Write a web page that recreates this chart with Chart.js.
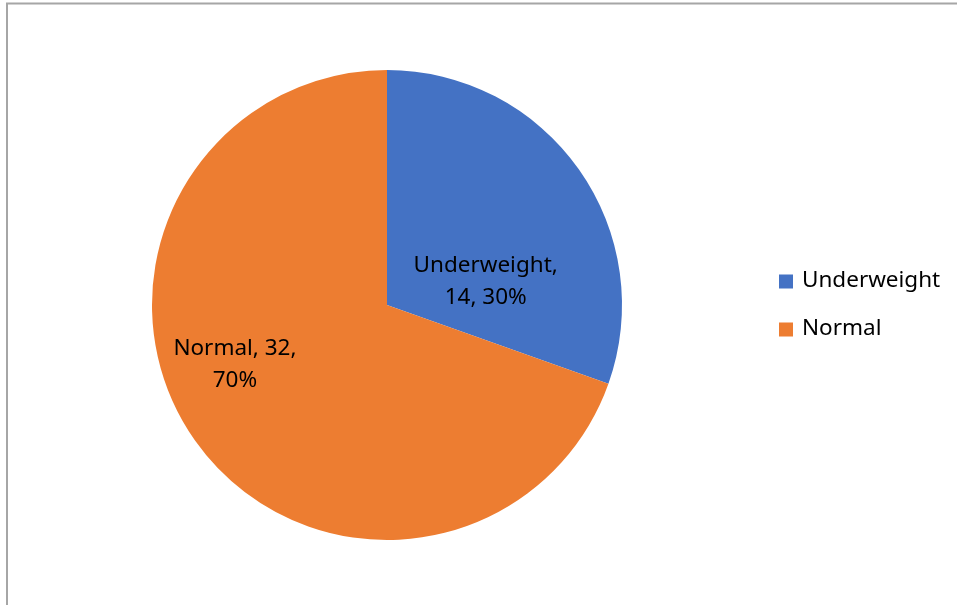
<!DOCTYPE html>
<html>
<head>
<meta charset="utf-8">
<script src="https://cdn.jsdelivr.net/npm/chart.js@4"></script>
<style>
  html, body { margin: 0; padding: 0; background: #fff; }
  #wrap { position: relative; width: 957px; height: 605px; }
</style>
</head>
<body>
<div id="wrap"><canvas id="c" width="957" height="605"></canvas></div>
<script>
const categories = ['Underweight', 'Normal'];
const counts = [14, 32];
const percents = ['30%', '70%'];
const sliceColors = ['#4472C4', '#ED7D31'];

const FONT = '"Noto Sans", "Open Sans", sans-serif';
const FONT_SIZE = 22.5;

// Label anchor offsets (fraction of radius from the pie centre)
const labelOffsets = [[0.42, -0.10], [-0.647, 0.255]];

const framePlugin = {
  id: 'frame',
  beforeDraw(chart) {
    const ctx = chart.ctx;
    ctx.save();
    ctx.fillStyle = '#fff';
    ctx.fillRect(0, 0, chart.width, chart.height);
    ctx.strokeStyle = '#a6a6a6';
    ctx.lineWidth = 2;
    ctx.beginPath();
    ctx.moveTo(7, chart.height);
    ctx.lineTo(7, 3.5);
    ctx.lineTo(chart.width, 3.5);
    ctx.stroke();
    ctx.restore();
  }
};

const labelPlugin = {
  id: 'sliceLabels',
  afterDatasetsDraw(chart) {
    const ctx = chart.ctx;
    const meta = chart.getDatasetMeta(0);
    ctx.save();
    ctx.font = FONT_SIZE + 'px ' + FONT;
    ctx.fillStyle = '#000';
    ctx.textAlign = 'center';
    ctx.textBaseline = 'middle';
    meta.data.forEach((arc, i) => {
      const r = arc.outerRadius;
      const x = arc.x + labelOffsets[i][0] * r;
      const y = arc.y + labelOffsets[i][1] * r;
      let lines = [categories[i] + ', ' + counts[i] + ',', percents[i]];
      if (i === 0) { lines = [categories[i] + ',', counts[i] + ', ' + percents[i]]; }
      ctx.fillText(lines[0], x, y - 16);
      ctx.fillText(lines[1], x, y + 16);
    });
    ctx.restore();
  }
};

const legendPlugin = {
  id: 'sideLegend',
  afterDraw(chart) {
    const ctx = chart.ctx;
    const area = chart.chartArea;
    const bx = area.right + 157;
    const y0 = (area.top + area.bottom) / 2 - 23.5;
    ctx.save();
    ctx.font = FONT_SIZE + 'px ' + FONT;
    ctx.textBaseline = 'middle';
    ctx.textAlign = 'left';
    categories.forEach((name, i) => {
      const y = y0 + i * 48;
      ctx.fillStyle = sliceColors[i];
      ctx.fillRect(bx, y - 7, 14, 14);
      ctx.fillStyle = '#000';
      ctx.fillText(name, bx + 23, y - 1);
    });
    ctx.restore();
  }
};

new Chart(document.getElementById('c'), {
  type: 'pie',
  data: {
    labels: categories,
    datasets: [{
      data: counts,
      backgroundColor: sliceColors,
      borderWidth: 0
    }]
  },
  options: {
    responsive: false,
    animation: false,
    layout: { padding: { left: 152, right: 335, top: 70, bottom: 65 } },
    plugins: {
      legend: { display: false },
      tooltip: { enabled: false }
    }
  },
  plugins: [framePlugin, labelPlugin, legendPlugin]
});
</script>
</body>
</html>
